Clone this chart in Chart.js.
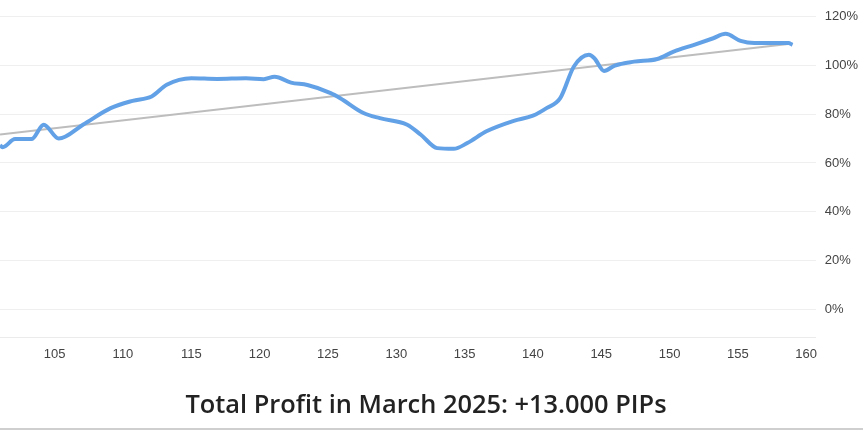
<!DOCTYPE html>
<html>
<head>
<meta charset="utf-8">
<script src="https://cdn.jsdelivr.net/npm/chart.js@4"></script>
<style>
  html, body { margin: 0; padding: 0; background: #fff; }
  #wrap { width: 863px; height: 428px; border-bottom: 2px solid #cfcfcf; position: relative; }
</style>
</head>
<body>
<div id="wrap"><canvas id="chart"></canvas></div>
<script>
// equity curve (x = trade number, y = %)
const profitX = [101, 101.2, 102.1, 103.3, 104.2, 105.3, 107.1, 109.1, 110.7, 112.1, 113.2, 115, 116.9, 119, 120.3, 121.1, 122.3, 123.5, 125.2, 125.9, 127.6, 128.8, 130.8, 131.8, 133, 134.2, 135.2, 136.6, 138.6, 140, 141, 142, 143, 144.1, 144.5, 145.2, 146, 147.4, 149.1, 150.3, 151.8, 153.2, 154.1, 155.2, 156.2, 157.9, 158.7, 159]
const profitY = [67.2, 66.5, 69.8, 69.8, 75.7, 70.0, 75.8, 82.5, 85.5, 87.3, 92.1, 94.8, 94.5, 94.8, 94.4, 95.4, 93.0, 92.0, 88.7, 86.6, 80.5, 78.4, 75.7, 71.6, 66.1, 65.8, 68.2, 73.0, 77.3, 79.4, 82.5, 86.6, 99.6, 104.4, 103.0, 97.8, 100.0, 101.6, 102.7, 105.7, 108.5, 111.2, 113.0, 110.1, 109.2, 109.2, 109.2, 108.5]

// straight trend line
const trendX = [101, 159]
const trendY = [71.7, 109.0]

const xTicks = [105, 110, 115, 120, 125, 130, 135, 140, 145, 150, 155, 160]
const yTicks = [0, 20, 40, 60, 80, 100, 120]

const title = 'Total Profit in March 2025: +13.000 PIPs'

const toPoints = (xs, ys) => xs.map((x, i) => ({x: x, y: ys[i]}))

const tickFont = {family: 'Liberation Sans, Arial, sans-serif', size: 13}

new Chart(document.getElementById('chart'), {
  type: 'line',
  data: {
    datasets: [
      {
        data: toPoints(profitX, profitY),
        borderColor: '#63a1e7',
        borderWidth: 4,
        pointRadius: 0,
        cubicInterpolationMode: 'monotone',
        fill: false
      },
      {
        data: toPoints(trendX, trendY),
        borderColor: '#bdbdbd',
        borderWidth: 2,
        pointRadius: 0,
        fill: false
      }
    ]
  },
  options: {
    responsive: true,
    maintainAspectRatio: false,
    animation: false,
    // negative left padding only nudges the title box; plot still starts at 0
    layout: {
      padding: {top: 5, right: -4, left: -15, bottom: 7}
    },
    plugins: {
      legend: {display: false},
      tooltip: {enabled: false},
      title: {
        display: true,
        position: 'bottom',
        text: title,
        color: '#222',
        font: {family: 'Open Sans, sans-serif', size: 25.4, weight: '600'},
        padding: {top: 27, bottom: 0}
      }
    },
    scales: {
      x: {
        type: 'linear',
        min: 101,
        max: 160.7,
        afterBuildTicks: (scale) => {
          scale.ticks = xTicks.map(v => ({value: v}))
        },
        grid: {display: false},
        border: {color: '#ebebeb', width: 1},
        ticks: {color: '#444', font: tickFont, padding: 1, maxRotation: 0}
      },
      y: {
        position: 'right',
        min: -11.8,
        max: 120,
        afterBuildTicks: (scale) => {
          scale.ticks = yTicks.map(v => ({value: v}))
        },
        grid: {color: '#efefef', drawTicks: false},
        border: {display: false},
        ticks: {
          color: '#444',
          font: tickFont,
          padding: 9,
          callback: (value) => value + '%'
        }
      }
    }
  }
})
</script>
</body>
</html>
